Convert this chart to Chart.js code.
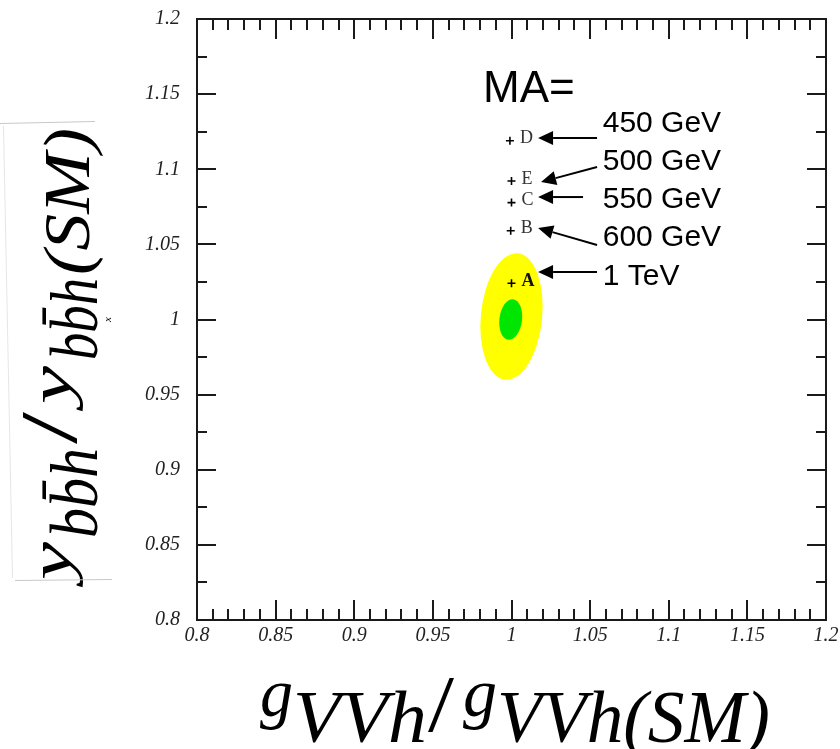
<!DOCTYPE html>
<html>
<head>
<meta charset="utf-8">
<script src="https://cdn.jsdelivr.net/npm/chart.js@4/dist/chart.umd.min.js"></script>
<style>
html,body{margin:0;padding:0;background:#fff;}
#wrap{width:840px;height:749px;position:relative;}
</style>
</head>
<body>
<div id="wrap"><canvas id="c" width="840" height="749"></canvas></div>
<script>
// ---- axis ranges and ticks ----
const xRange = [0.8, 1.2];
const yRange = [0.8, 1.2];
const xTickValues = [0.8, 0.85, 0.9, 0.95, 1.0, 1.05, 1.1, 1.15, 1.2];
const xTickLabels = ['0.8', '0.85', '0.9', '0.95', '1', '1.05', '1.1', '1.15', '1.2'];
const yTickValues = [0.8, 0.85, 0.9, 0.95, 1.0, 1.05, 1.1, 1.15, 1.2];
const yTickLabels = ['0.8', '0.85', '0.9', '0.95', '1', '1.05', '1.1', '1.15', '1.2'];
const xMinorStep = 0.01;
const yMinorStep = 0.025;

// ---- benchmark points ----
const pointNames = ['D', 'E', 'C', 'B', 'A'];
const pointX = [0.999, 1.0, 1.0, 0.9995, 1.0];
const pointY = [1.119, 1.0922, 1.0778, 1.0591, 1.0241];

// ---- confidence regions (ellipses) ----
const regionNames = ['outer', 'inner'];
const regionCenterX = [1.0, 0.9995];
const regionCenterY = [1.002, 1.0];
const regionHalfX = [0.0195, 0.0072];
const regionHalfY = [0.0423, 0.0136];
const regionTilt = [0.10, 0.12];
const regionColors = ['#ffff00', '#00e600'];

// ---- MA annotations ----
const maHeader = 'MA=';
const maHeaderX = 0.9819;
const maHeaderY = 1.1544;
const massLabels = ['450 GeV', '500 GeV', '550 GeV', '600 GeV', '1 TeV'];
const massLabelX = 1.058;
const massLabelY = [1.1311, 1.1055, 1.0802, 1.0549, 1.029];
const arrowTipX = [1.0169, 1.0188, 1.0169, 1.0169, 1.0169];
const arrowTipY = [1.1208, 1.0915, 1.0815, 1.0609, 1.0316];
const arrowTailX = [1.0544, 1.0544, 1.0455, 1.0544, 1.0544];
const arrowTailY = [1.1208, 1.1015, 1.0815, 1.0496, 1.0316];

const serifItalic = (s) => 'italic ' + s + 'px "Liberation Serif", "Times New Roman", serif';

const regionPlugin = {
  id: 'regions',
  beforeDatasetsDraw(chart) {
    const {ctx, scales: {x, y}} = chart;
    ctx.save();
    for (let i = 0; i < regionNames.length; i++) {
      const cx = x.getPixelForValue(regionCenterX[i]);
      const cy = y.getPixelForValue(regionCenterY[i]);
      const rx = Math.abs(x.getPixelForValue(regionCenterX[i] + regionHalfX[i]) - cx);
      const ry = Math.abs(y.getPixelForValue(regionCenterY[i] + regionHalfY[i]) - cy);
      ctx.beginPath();
      ctx.ellipse(cx, cy, rx, ry, regionTilt[i], 0, Math.PI * 2);
      ctx.fillStyle = regionColors[i];
      ctx.fill();
    }
    ctx.restore();
  }
};

const annotPlugin = {
  id: 'annot',
  afterDatasetsDraw(chart) {
    const {ctx, scales: {x, y}, chartArea: ca} = chart;
    ctx.save();
    // point letters
    ctx.textBaseline = 'middle';
    ctx.textAlign = 'left';
    for (let i = 0; i < pointNames.length; i++) {
      const px = x.getPixelForValue(pointX[i]);
      const py = y.getPixelForValue(pointY[i]);
      ctx.font = (pointNames[i] === 'A' ? 'bold ' : '') + '18px "Liberation Serif", serif';
      ctx.fillStyle = pointNames[i] === 'A' ? '#111' : '#333';
      ctx.fillText(pointNames[i], px + 10, py - 2);
    }
    // arrows
    ctx.strokeStyle = '#000';
    ctx.fillStyle = '#000';
    ctx.lineWidth = 2;
    for (let i = 0; i < massLabels.length; i++) {
      const tx = x.getPixelForValue(arrowTipX[i]);
      const ty = y.getPixelForValue(arrowTipY[i]);
      const sx = x.getPixelForValue(arrowTailX[i]);
      const sy = y.getPixelForValue(arrowTailY[i]);
      const ang = Math.atan2(sy - ty, sx - tx);
      const hl = 15, hw = 7;
      const bx = tx + hl * Math.cos(ang), by = ty + hl * Math.sin(ang);
      ctx.beginPath();
      ctx.moveTo(bx, by);
      ctx.lineTo(sx, sy);
      ctx.stroke();
      ctx.beginPath();
      ctx.moveTo(tx, ty);
      ctx.lineTo(bx - hw * Math.sin(ang), by + hw * Math.cos(ang));
      ctx.lineTo(bx + hw * Math.sin(ang), by - hw * Math.cos(ang));
      ctx.closePath();
      ctx.fill();
    }
    // texts
    ctx.fillStyle = '#000';
    ctx.textBaseline = 'middle';
    ctx.font = '44px "Liberation Sans", Arial, sans-serif';
    ctx.fillText(maHeader, x.getPixelForValue(maHeaderX), y.getPixelForValue(maHeaderY) + 2);
    ctx.font = '30px "Liberation Sans", Arial, sans-serif';
    for (let i = 0; i < massLabels.length; i++) {
      ctx.fillText(massLabels[i], x.getPixelForValue(massLabelX), y.getPixelForValue(massLabelY[i]) + 1);
    }
    // frame and inward ticks
    ctx.strokeStyle = '#1a1a1a';
    ctx.lineWidth = 2;
    ctx.strokeRect(ca.left, ca.top, ca.right - ca.left, ca.bottom - ca.top);
    ctx.lineWidth = 2;
    ctx.beginPath();
    const nx = Math.round((xRange[1] - xRange[0]) / xMinorStep);
    for (let k = 1; k < nx; k++) {
      const v = xRange[0] + k * xMinorStep;
      const major = k % 5 === 0;
      const len = major ? 20 : 11;
      const px = Math.round(x.getPixelForValue(v));
      ctx.moveTo(px, ca.bottom); ctx.lineTo(px, ca.bottom - len);
      ctx.moveTo(px, ca.top); ctx.lineTo(px, ca.top + len);
    }
    const ny = Math.round((yRange[1] - yRange[0]) / yMinorStep);
    for (let k = 1; k < ny; k++) {
      const v = yRange[0] + k * yMinorStep;
      const major = k % 2 === 0;
      const len = major ? 19 : 10;
      const py = Math.round(y.getPixelForValue(v));
      ctx.moveTo(ca.left, py); ctx.lineTo(ca.left + len, py);
      ctx.moveTo(ca.right, py); ctx.lineTo(ca.right - len, py);
    }
    ctx.stroke();
    ctx.restore();
  }
};

function fitH(ctx, txt, size, x0, x1, base) {
  ctx.font = serifItalic(size);
  const w = ctx.measureText(txt).width;
  ctx.save();
  ctx.translate(x0, base);
  ctx.scale((x1 - x0) / w, 1);
  ctx.fillText(txt, 0, 0);
  ctx.restore();
}
function fitV(ctx, txt, size, t0, t1, baseX, origin) {
  ctx.font = serifItalic(size);
  const w = ctx.measureText(txt).width;
  ctx.save();
  ctx.translate(baseX, origin - t0);
  ctx.rotate(-Math.PI / 2);
  ctx.scale((t1 - t0) / w, 1);
  ctx.fillText(txt, 0, 0);
  ctx.restore();
}

const titlePlugin = {
  id: 'titles',
  afterDraw(chart) {
    const ctx = chart.ctx;
    ctx.save();
    ctx.fillStyle = '#000';
    ctx.textAlign = 'left';
    ctx.textBaseline = 'alphabetic';
    // x title: g_{VVh}/g_{VVh(SM)}
    fitH(ctx, 'g', 68, 260, 293, 716);
    fitH(ctx, 'VVh', 74, 293, 427, 742);
    ctx.save();
    ctx.font = '80px "Liberation Serif", serif';
    const sw = ctx.measureText('/').width;
    ctx.translate(428, 731);
    ctx.scale(26 / sw, 1);
    ctx.fillText('/', 0, 0);
    ctx.restore();
    fitH(ctx, 'g', 68, 463, 497, 716);
    fitH(ctx, 'VVh(SM)', 74, 497, 770, 742);

    // y title (rotated)
    const O = 580;
    fitV(ctx, 'y', 60, 0, 38, 70, O);
    fitV(ctx, 'bb\u0304h', 68, 42, 132, 97, O);
    ctx.save();
    ctx.font = '80px "Liberation Serif", serif';
    const sw2 = ctx.measureText('/').width;
    ctx.translate(76, O - 136);
    ctx.rotate(-Math.PI / 2);
    ctx.scale(32 / sw2, 1);
    ctx.fillText('/', 0, 0);
    ctx.restore();
    fitV(ctx, 'y', 60, 176, 214, 70, O);
    fitV(ctx, 'bb\u0304h', 68, 220, 302, 97, O);
    fitV(ctx, '(SM)', 66, 305, 452, 89, O);
    // small stray mark
    ctx.save();
    ctx.font = serifItalic(11);
    ctx.translate(111, 322);
    ctx.rotate(-Math.PI / 2);
    ctx.fillText('x', 0, 0);
    ctx.restore();
    // faint frame lines of the title image
    ctx.strokeStyle = '#c8c8c8';
    ctx.lineWidth = 1;
    ctx.beginPath();
    ctx.moveTo(0, 123.5); ctx.lineTo(95, 121.5);
    ctx.moveTo(15, 580.5); ctx.lineTo(112, 579.5);
    ctx.stroke();
    ctx.strokeStyle = '#e6e6e6';
    ctx.beginPath();
    ctx.moveTo(3.5, 126); ctx.lineTo(12.5, 578);
    ctx.stroke();
    ctx.restore();
  }
};

const points = pointNames.map((n, i) => ({x: pointX[i], y: pointY[i]}));

new Chart(document.getElementById('c'), {
  type: 'scatter',
  data: {
    datasets: [{
      label: 'benchmarks',
      data: points,
      pointStyle: 'cross',
      radius: 4,
      borderColor: '#000',
      backgroundColor: '#000',
      borderWidth: 1.6
    }]
  },
  options: {
    responsive: false,
    animation: false,
    devicePixelRatio: 1,
    layout: {padding: {left: 0, right: 14, top: 19, bottom: 89}},
    plugins: {legend: {display: false}, tooltip: {enabled: false}},
    scales: {
      x: {
        type: 'linear',
        min: xRange[0], max: xRange[1],
        afterBuildTicks: (s) => { s.ticks = xTickValues.map(v => ({value: v})); },
        afterFit: (s) => { s.height = 40; s.paddingLeft = 0; s.paddingRight = 0; },
        grid: {display: false, drawTicks: false},
        border: {display: false},
        ticks: {
          autoSkip: false, maxRotation: 0, padding: 4,
          color: '#222',
          font: {family: '"Liberation Serif", serif', style: 'italic', size: 20},
          callback: (v, i) => xTickLabels[i]
        }
      },
      y: {
        type: 'linear',
        min: yRange[0], max: yRange[1],
        afterBuildTicks: (s) => { s.ticks = yTickValues.map(v => ({value: v})); },
        afterFit: (s) => { s.width = 197; s.paddingTop = 0; s.paddingBottom = 0; },
        grid: {display: false, drawTicks: false},
        border: {display: false},
        ticks: {
          autoSkip: false, padding: 17,
          color: '#222',
          font: {family: '"Liberation Serif", serif', style: 'italic', size: 20},
          callback: (v, i) => yTickLabels[i]
        }
      }
    }
  },
  plugins: [regionPlugin, annotPlugin, titlePlugin]
});
</script>
</body>
</html>
